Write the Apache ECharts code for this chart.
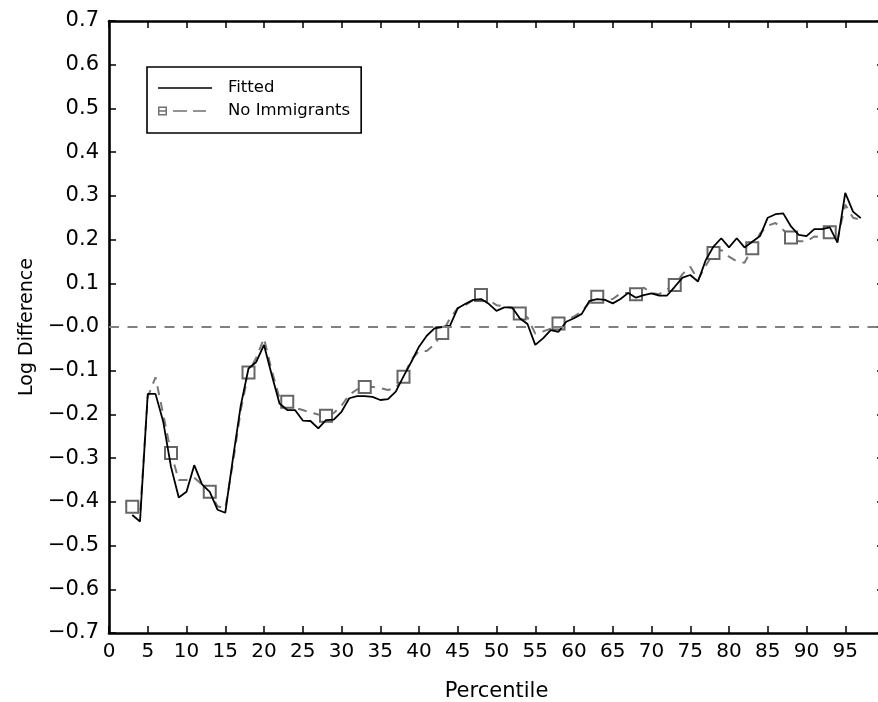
<!DOCTYPE html>
<html><head><meta charset="utf-8">
<script src="https://cdn.jsdelivr.net/npm/echarts@6/dist/echarts.min.js"></script>
<style>html,body{margin:0;padding:0;background:#fff}#c{width:878px;height:702px}</style>
</head><body><div id="c"></div>
<script>
const percentiles = [3,4,5,6,7,8,9,10,11,12,13,14,15,16,17,18,19,20,21,22,23,24,25,26,27,28,29,30,31,32,33,34,35,36,37,38,39,40,41,42,43,44,45,46,47,48,49,50,51,52,53,54,55,56,57,58,59,60,61,62,63,64,65,66,67,68,69,70,71,72,73,74,75,76,77,78,79,80,81,82,83,84,85,86,87,88,89,90,91,92,93,94,95,96,97];
const fitted = [-0.43,-0.445,-0.153,-0.153,-0.217,-0.32,-0.39,-0.377,-0.316,-0.36,-0.377,-0.418,-0.425,-0.30,-0.18,-0.095,-0.08,-0.041,-0.11,-0.175,-0.19,-0.19,-0.214,-0.215,-0.232,-0.213,-0.212,-0.194,-0.163,-0.158,-0.158,-0.16,-0.167,-0.165,-0.148,-0.113,-0.08,-0.045,-0.02,-0.003,0.0,0.003,0.043,0.053,0.062,0.064,0.053,0.037,0.045,0.045,0.02,0.007,-0.041,-0.026,-0.007,-0.011,0.012,0.02,0.03,0.06,0.064,0.062,0.054,0.064,0.078,0.067,0.073,0.077,0.072,0.072,0.092,0.113,0.119,0.104,0.153,0.184,0.203,0.182,0.203,0.182,0.195,0.208,0.25,0.258,0.26,0.23,0.211,0.208,0.224,0.224,0.228,0.193,0.307,0.264,0.249];
const noImmigrants = [-0.411,-0.43,-0.16,-0.115,-0.2,-0.288,-0.35,-0.35,-0.345,-0.36,-0.377,-0.41,-0.415,-0.31,-0.19,-0.104,-0.07,-0.026,-0.1,-0.162,-0.171,-0.185,-0.19,-0.196,-0.2,-0.203,-0.197,-0.18,-0.155,-0.143,-0.137,-0.137,-0.14,-0.144,-0.14,-0.114,-0.075,-0.055,-0.055,-0.04,-0.014,0.02,0.043,0.05,0.062,0.073,0.062,0.05,0.047,0.043,0.031,0.022,-0.015,-0.01,-0.004,0.008,0.015,0.024,0.036,0.056,0.069,0.062,0.064,0.077,0.078,0.075,0.09,0.078,0.075,0.086,0.096,0.121,0.138,0.108,0.14,0.169,0.176,0.161,0.15,0.147,0.18,0.214,0.232,0.238,0.222,0.205,0.196,0.196,0.207,0.206,0.217,0.2,0.28,0.25,0.245];
const markerPercentiles = [3,8,13,18,23,28,33,38,43,48,53,58,63,68,73,78,83,88,93];
const xTickLabels = ['0','5','10','15','20','25','30','35','40','45','50','55','60','65','70','75','80','85','90','95'];
const yTickLabels = ['\u22120.7','\u22120.6','\u22120.5','\u22120.4','\u22120.3','\u22120.2','\u22120.1','\u22120.0','0.1','0.2','0.3','0.4','0.5','0.6','0.7'];
const seriesNames = ['Fitted','No Immigrants'];
const xTitle = 'Percentile';
const yTitle = 'Log Difference';

const chart = echarts.init(document.getElementById('c'), null, {renderer:'canvas'});
const FONT = 'DejaVu Sans';
const fittedData = percentiles.map((p,i)=>[p, fitted[i]]);
const noImmData = percentiles.map((p,i)=>({
  value:[p, noImmigrants[i]],
  symbol: markerPercentiles.indexOf(p) >= 0 ? 'rect' : 'none'
}));
const axisLine = {show:true, onZero:false, lineStyle:{color:'#000', width:2.6}};
const tick = {show:true, inside:true, length:7, lineStyle:{color:'#000', width:1.5}};
chart.setOption({
  animation:false,
  backgroundColor:'#fff',
  grid:{left:109, right:-6, top:21, bottom:69, containLabel:false, outerBoundsMode:'none'},
  legend:{
    orient:'vertical', left:147, top:67,
    padding:[12,11,13,11], itemGap:5, itemWidth:65, itemHeight:10,
    borderColor:'#000', borderWidth:1.6, backgroundColor:'#fff',
    symbolKeepAspect:true,
    textStyle:{fontFamily:FONT, fontSize:16.5, lineHeight:18, color:'#000'},
    data:[
      {name:seriesNames[0], icon:'path://M0,4.2 H54 V5.8 H0 Z M64.9,4.9 H65 V5.1 H64.9 Z', itemStyle:{color:'#000', borderWidth:0}},
      {name:seriesNames[1], icon:'path://M0,0.5 H9 V9.5 H0 Z M1.5,2 V8 H7.5 V2 Z M1.5,4.3 H7.5 V5.7 H1.5 Z M15,4.3 H29 V5.7 H15 Z M35,4.3 H48 V5.7 H35 Z M64.9,4.9 H65 V5.1 H64.9 Z', itemStyle:{color:'#707070', borderWidth:0}}
    ]
  },
  xAxis:[{
    type:'value', min:0, max:100, interval:5, position:'bottom',
    name:xTitle, nameLocation:'middle', nameGap:48,
    nameTextStyle:{fontFamily:FONT, fontSize:21, color:'#000'},
    axisLine:axisLine, axisTick:tick, splitLine:{show:false},
    axisLabel:{margin:9, fontFamily:FONT, fontSize:20, color:'#000',
      formatter:v=>{const i=Math.round(v/5); return i<xTickLabels.length?xTickLabels[i]:'';}}
  },{
    type:'value', min:0, max:100, interval:5, position:'top',
    axisLine:axisLine, axisTick:tick, splitLine:{show:false}, axisLabel:{show:false}
  }],
  yAxis:[{
    type:'value', min:-0.7, max:0.7, interval:0.1, position:'left',
    name:yTitle, nameLocation:'middle', nameGap:72, nameRotate:90,
    nameTextStyle:{fontFamily:FONT, fontSize:19, color:'#000'},
    axisLine:axisLine, axisTick:tick, splitLine:{show:false},
    axisLabel:{margin:10, fontFamily:FONT, fontSize:21, color:'#000',
      formatter:v=>yTickLabels[Math.round((v+0.7)*10)]||''}
  },{
    type:'value', min:-0.7, max:0.7, interval:0.1, position:'right',
    axisLine:axisLine, axisTick:tick, splitLine:{show:false}, axisLabel:{show:false}
  }],
  series:[{
    name:seriesNames[1], type:'line', data:noImmData, xAxisIndex:0, yAxisIndex:0,
    showAllSymbol:true, symbolSize:12,
    itemStyle:{color:'#fff', borderColor:'#666', borderWidth:2},
    lineStyle:{color:'#777', width:2, type:[9,7]},
    markLine:{silent:true, symbol:'none', label:{show:false},
      lineStyle:{color:'#808080', width:2, type:[10,8.5]},
      data:[{yAxis:0}]},
    z:2
  },{
    name:seriesNames[0], type:'line', data:fittedData, xAxisIndex:0, yAxisIndex:0,
    showSymbol:false, symbol:'none',
    lineStyle:{color:'#000', width:1.8},
    itemStyle:{color:'#000'},
    z:3
  }]
});
</script></body></html>
